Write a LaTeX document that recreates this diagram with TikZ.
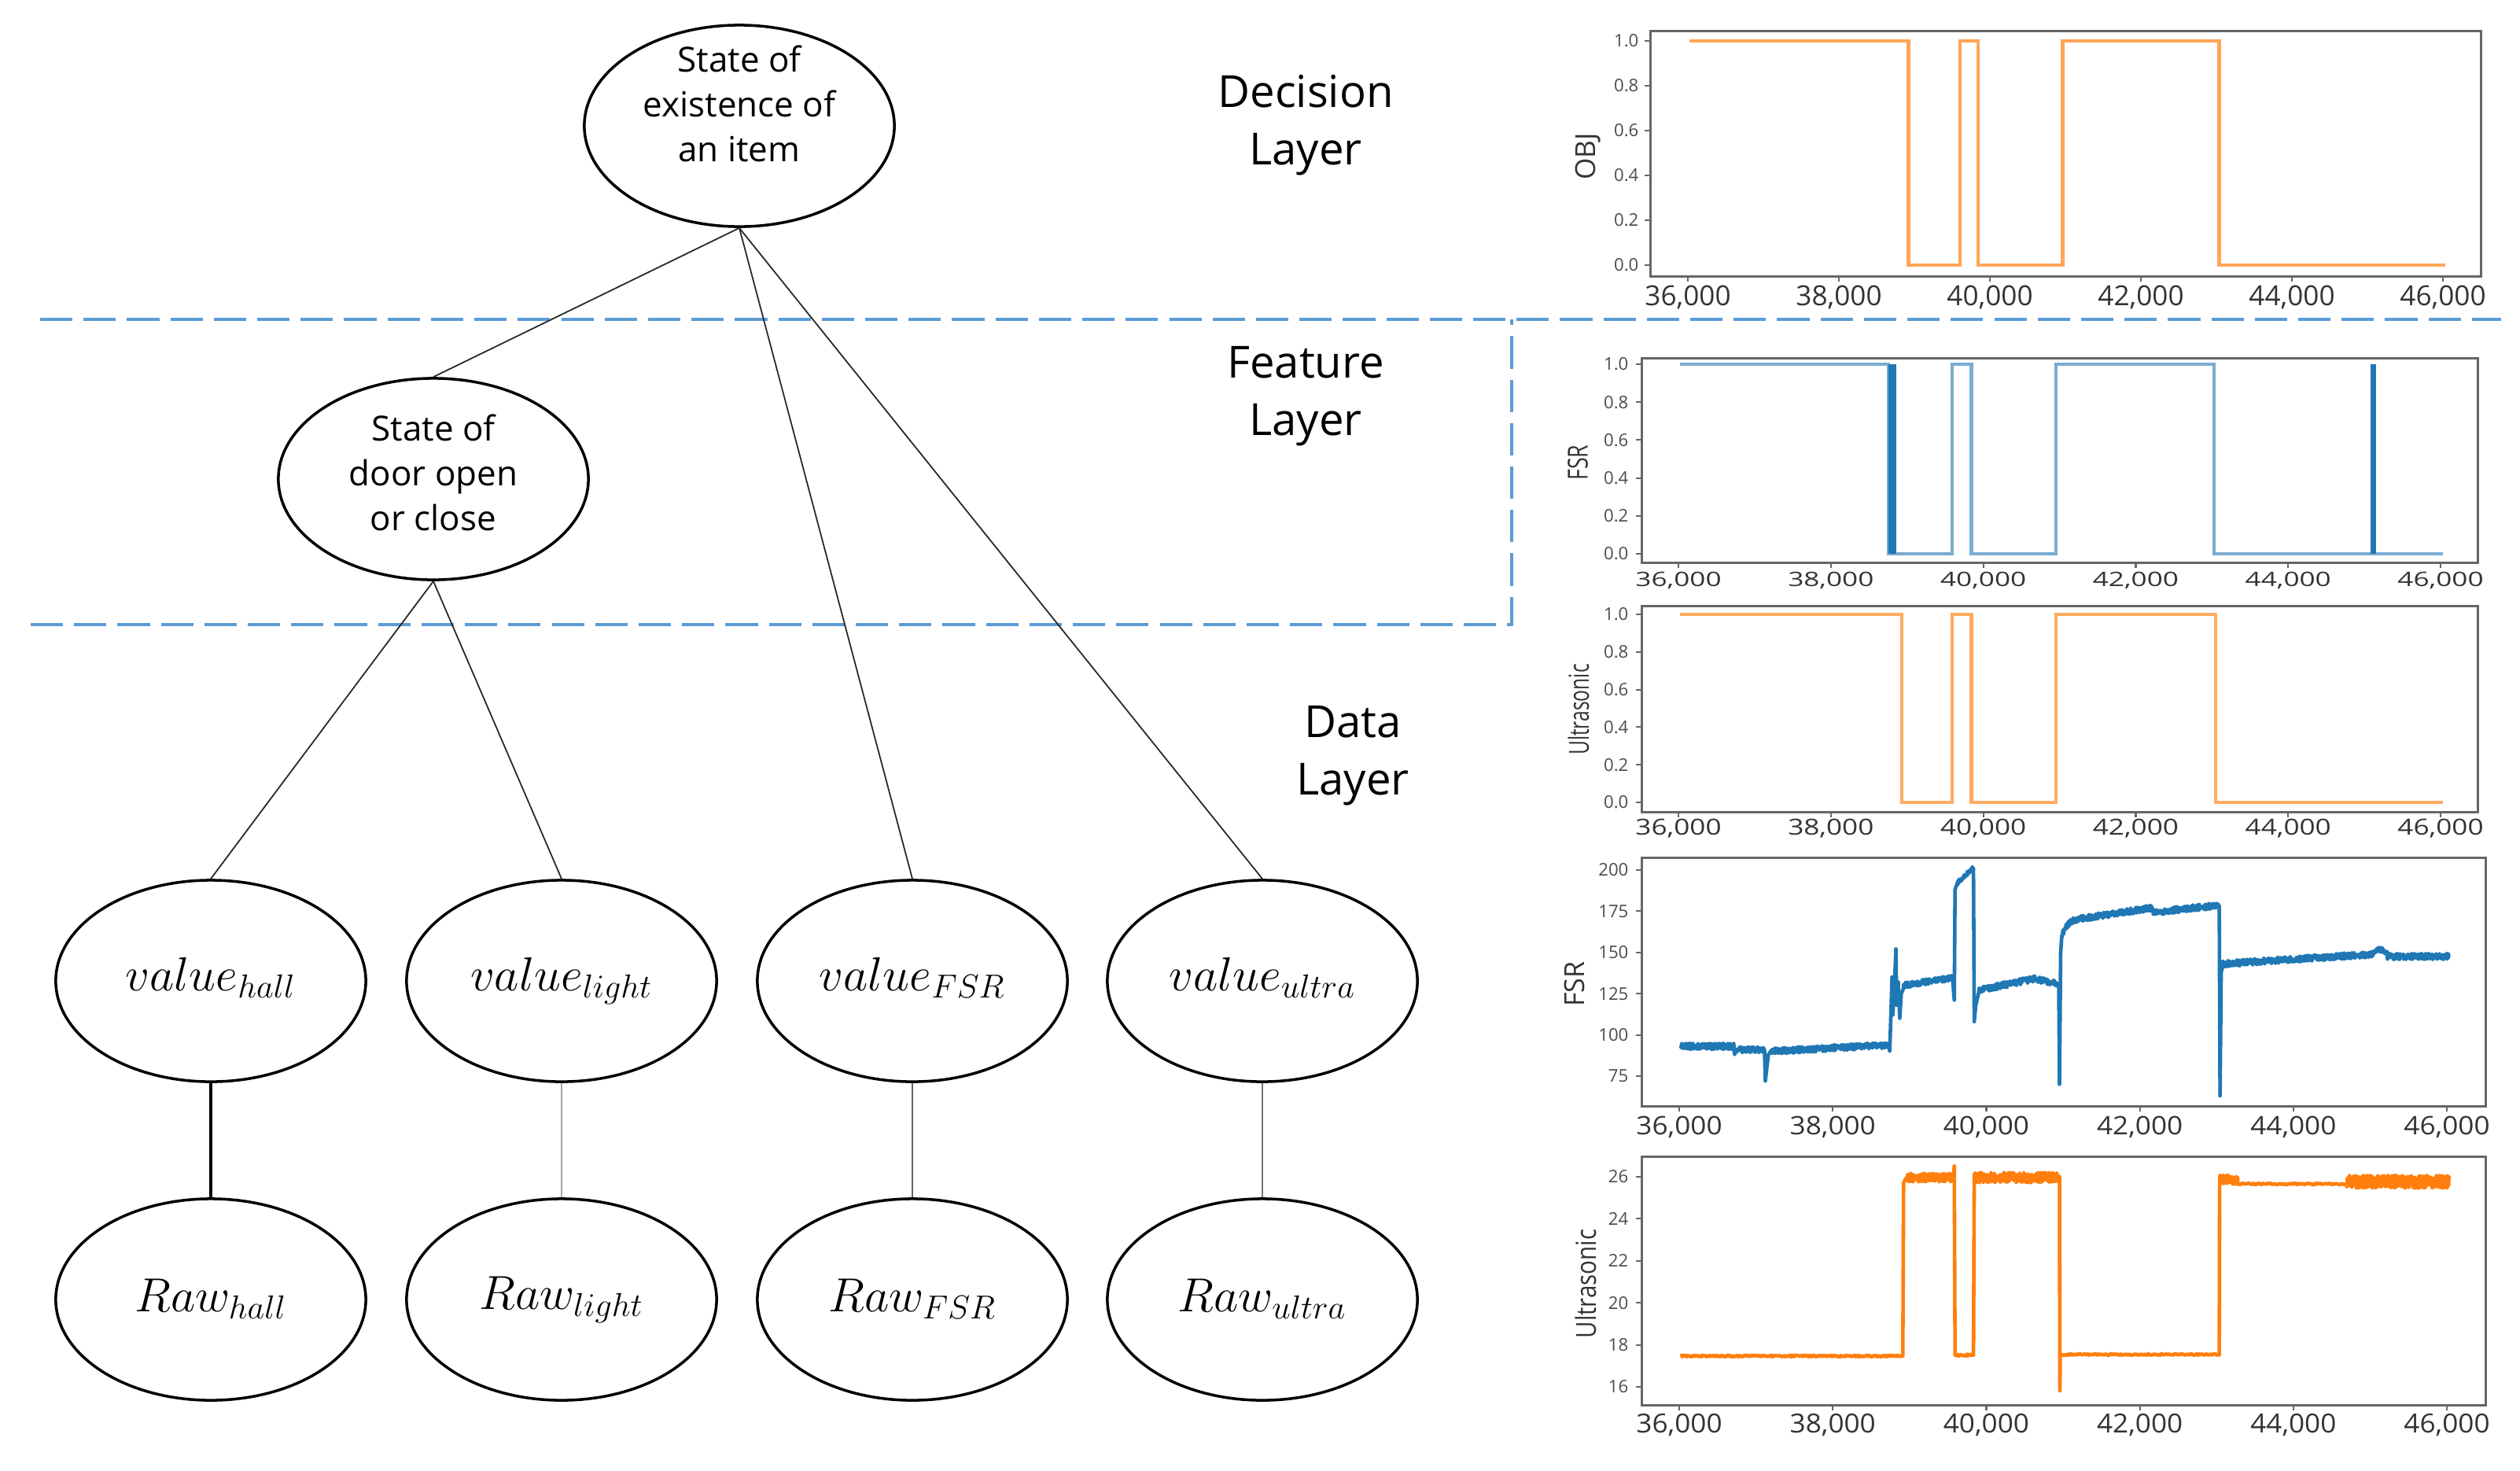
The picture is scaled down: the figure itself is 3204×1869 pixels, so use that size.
\documentclass[tikz,border=0pt]{standalone}
\usepackage[no-math]{fontspec}
\setmainfont{Open Sans}
\usepackage{graphicx}
\usetikzlibrary{shapes.geometric}
\definecolor{dashblue}{RGB}{91,155,213}
\definecolor{mplorange}{RGB}{255,127,14}
\definecolor{mplblue}{RGB}{31,119,180}
\begin{document}
\begin{tikzpicture}[x=0.01cm,y=-0.01cm,
  ell/.style={draw, ellipse, line width=1pt, minimum width=3.94cm, minimum height=2.56cm, inner sep=0pt},
  etxt/.style={align=center, font=\fontsize{12.5}{16.2}\selectfont, inner sep=0pt},
  mtxt/.style={font=\fontsize{16.5}{20}\selectfont},
  laytxt/.style={align=center, font=\fontsize{16}{20.8}\selectfont, inner sep=0pt},
  conn/.style={line width=0.5pt, black!85},
  dashsep/.style={dashblue, line width=1.4pt, dash pattern=on 11.7pt off 4pt},
  spine/.style={black!60, line width=0.85pt},
  tk/.style={black!60, line width=0.6pt},
  xtl/.style={font=\fontsize{10}{12}\selectfont, text=black!80, inner sep=0pt},
  ytl/.style={font=\fontsize{6.3}{7.5}\selectfont, text=black!70, inner sep=0pt, anchor=east},
  axl/.style={font=\fontsize{10}{12}\selectfont, text=black!80, inner sep=0pt, rotate=90},
  rawline/.style={line width=1.3pt, line join=round},
]
\useasboundingbox (0,0) rectangle (3204,1869);
\pgfmathsetseed{7}

% ---------- layer separators ----------
\coordinate (d1a) at (51,406);
\coordinate (d1b) at (3180,406);
\draw[dashsep] (d1a) -- (d1b);
\coordinate (d2a) at (39,794);
\coordinate (d2b) at (1922,794);
\coordinate (d2c) at (1922,406);
\draw[dashsep] (d2a) -- (d2b) -- (d2c);

% ---------- tree ----------
\node[ell] (obj) at (940,160) {};
\node[etxt] (objt) at (940,132) {State of\\existence of\\an item};
\node[ell] (door) at (551,609) {};
\node[etxt] (doort) at (551,601) {State of\\door open\\or close};

\node[ell, mtxt] (vh) at (268,1247) {\raisebox{5pt}{$value_{hall}$}};
\node[ell, mtxt] (vl) at (714,1247) {\raisebox{5pt}{$value_{light}$}};
\node[ell, mtxt] (vf) at (1160,1247) {\raisebox{5pt}{$value_{FSR}$}};
\node[ell, mtxt] (vu) at (1605,1247) {\raisebox{5pt}{$value_{ultra}$}};

\node[ell, mtxt] (rh) at (268,1652) {\raisebox{3pt}{$Raw_{hall}$}};
\node[ell, mtxt] (rl) at (714,1652) {\raisebox{3pt}{$Raw_{light}$}};
\node[ell, mtxt] (rf) at (1160,1652) {\raisebox{3pt}{$Raw_{FSR}$}};
\node[ell, mtxt] (ru) at (1605,1652) {\raisebox{3pt}{$Raw_{ultra}$}};

\draw[conn] (obj.south) -- (door.north);
\draw[conn] (obj.south) -- (vf.north);
\draw[conn] (obj.south) -- (vu.north);
\draw[conn] (door.south) -- (vh.north);
\draw[conn] (door.south) -- (vl.north);
\draw[line width=1pt] (vh.south) -- (rh.north);
\draw[line width=0.5pt, black!35] (vl.south) -- (rl.north);
\draw[line width=0.5pt, black!60] (vf.south) -- (rf.north);
\draw[line width=0.5pt, black!55] (vu.south) -- (ru.north);

\node[laytxt] (ldec) at (1660,159) {Decision\\Layer};
\node[laytxt] (lfea) at (1660,504) {Feature\\Layer};
\node[laytxt] (ldat) at (1720,961) {Data\\Layer};

% ---------- plot 1: OBJ ----------
\draw[spine] (2098,39) rectangle (3154,351);
\foreach \v/\l [count=\i] in {0/0.0,0.2/0.2,0.4/0.4,0.6/0.6,0.8/0.8,1/1.0} {
  \draw[tk] (2091,{337-285*\v}) -- (2098,{337-285*\v});
  \node[ytl] (oy\i) at (2084,{337-285*\v}) {\l};
}
\foreach \t [count=\i] in {36,38,...,46} {
  \draw[tk] ({2146+(\t-36)*96},351) -- ({2146+(\t-36)*96},358);
  \node[xtl] (ox\i) at ({2146+(\t-36)*96},378) {\t,000};
}
\node[axl] (olab) at (2019,199) {OBJ};
\begin{scope}[shift={(-1310,337)}, x=0.96cm, y=2.85cm]
  \draw[mplorange, opacity=0.7, line width=1.3pt]
    (36,1) -- (38.9,1) -- (38.9,0) -- (39.58,0) -- (39.58,1) -- (39.82,1) -- (39.82,0)
    -- (40.94,0) -- (40.94,1) -- (43.01,1) -- (43.01,0) -- (46,0);
\end{scope}

% ---------- plot 2: FSR binary ----------
\draw[spine] (2087,455) rectangle (3150,715);
\foreach \v/\l [count=\i] in {0/0.0,0.2/0.2,0.4/0.4,0.6/0.6,0.8/0.8,1/1.0} {
  \draw[tk] (2080,{704-241*\v}) -- (2087,{704-241*\v});
  \node[ytl] (fy\i) at (2071,{704-241*\v}) {\l};
}
\foreach \t [count=\i] in {36,38,...,46} {
  \draw[tk] ({2134+(\t-36)*96.9},715) -- ({2134+(\t-36)*96.9},722);
  \node[xtl] (fx\i) at ({2134+(\t-36)*96.9},738) {\scalebox{1}[0.72]{\t,000}};
}
\node[axl] (flab) at (2006,588) {\scalebox{0.76}[1]{FSR}};
\begin{scope}[shift={(-1354.4,704)}, x=0.969cm, y=2.41cm]
  \draw[mplblue, opacity=0.6, line width=1.2pt]
    (36,1) -- (38.73,1) -- (38.73,0) -- (39.57,0) -- (39.57,1) -- (39.82,1) -- (39.82,0)
    -- (40.93,0) -- (40.93,1) -- (43.0,1) -- (43.0,0) -- (46,0);
  \fill[mplblue] (38.73,0) rectangle (38.84,1);
  \draw[mplblue, line width=2.2pt] (45.09,0) -- (45.09,1);
\end{scope}

% ---------- plot 3: Ultrasonic binary ----------
\draw[spine] (2087,770) rectangle (3150,1032);
\foreach \v/\l [count=\i] in {0/0.0,0.2/0.2,0.4/0.4,0.6/0.6,0.8/0.8,1/1.0} {
  \draw[tk] (2080,{1020-239*\v}) -- (2087,{1020-239*\v});
  \node[ytl] (uy\i) at (2071,{1020-239*\v}) {\l};
}
\foreach \t [count=\i] in {36,38,...,46} {
  \draw[tk] ({2134+(\t-36)*96.9},1032) -- ({2134+(\t-36)*96.9},1039);
  \node[xtl] (ux\i) at ({2134+(\t-36)*96.9},1053) {\scalebox{1}[0.8]{\t,000}};
}
\node[axl] (ulab) at (2007,902) {\scalebox{0.70}[1]{Ultrasonic}};
\begin{scope}[shift={(-1354.4,1020)}, x=0.969cm, y=2.39cm]
  \draw[mplorange, opacity=0.65, line width=1.2pt]
    (36,1) -- (38.91,1) -- (38.91,0) -- (39.57,0) -- (39.57,1) -- (39.82,1) -- (39.82,0)
    -- (40.93,0) -- (40.93,1) -- (43.02,1) -- (43.02,0) -- (46,0);
\end{scope}

% ---------- plot 4: FSR raw ----------
\draw[spine] (2087,1090) rectangle (3160,1406);
\foreach \v [count=\i] in {75,100,125,150,175,200} {
  \draw[tk] (2080,{1525.2-2.096*\v}) -- (2087,{1525.2-2.096*\v});
  \node[ytl] (ry\i) at (2071,{1525.2-2.096*\v}) {\v};
}
\foreach \t [count=\i] in {36,38,...,46} {
  \draw[tk] ({2135+(\t-36)*97.6},1406) -- ({2135+(\t-36)*97.6},1413);
  \node[xtl] (rx\i) at ({2135+(\t-36)*97.6},1433) {\scalebox{1}[0.92]{\t,000}};
}
\node[axl] (rlab) at (2002,1251) {\scalebox{0.97}[1]{FSR}};
\begin{scope}[shift={(-1378.6,1525.2)}, x=0.976cm, y=0.02096cm]
  \draw[mplblue, rawline]
    plot[domain=36:36.69, samples=180] (\x,{93+1.8*rand})
    -- (36.7,88) -- (36.72,91)
    -- plot[domain=36.72:37.09, samples=90] (\x,{91+1.8*rand})
    -- (37.1,72) -- (37.12,80) -- (37.14,88) -- (37.17,90)
    -- plot[domain=37.17:38.7, samples=380] (\x,{90+(\x-37.17)*2.5+1.8*rand})
    -- (38.72,90) -- (38.74,120) -- (38.75,135) -- (38.76,112) -- (38.78,128)
    -- (38.8,152) -- (38.81,118) -- (38.83,132) -- (38.85,110) -- (38.87,125) -- (38.9,128)
    -- plot[domain=38.9:39.54, samples=160] (\x,{130+(\x-38.9)*7+1.7*rand})
    -- (39.56,121) -- (39.57,188) -- (39.6,192)
    -- plot[domain=39.6:39.8, samples=50] (\x,{192+(\x-39.6)*45+1.2*rand})
    -- (39.81,201) -- (39.82,108) -- (39.84,118) -- (39.88,126)
    -- plot[domain=39.88:40.6, samples=180] (\x,{127+(\x-39.88)*9.7+1.8*rand})
    -- plot[domain=40.6:40.9, samples=75] (\x,{134-(\x-40.6)*10+1.8*rand})
    -- (40.92,130) -- (40.93,70) -- (40.945,150) -- (40.96,160)
    -- plot[domain=40.96:41.3, samples=85] (\x,{160+11*(1-exp(-(\x-40.96)*12))+1.7*rand})
    -- plot[domain=41.3:42.15, samples=210] (\x,{171+(\x-41.3)*7+1.8*rand})
    -- plot[domain=42.15:42.3, samples=40] (\x,{174.5+1.5*rand})
    -- plot[domain=42.3:43.0, samples=175] (\x,{175+(\x-42.3)*5+1.8*rand})
    -- (43.01,178) -- (43.02,63) -- (43.035,138) -- (43.06,142)
    -- plot[domain=43.06:45.0, samples=480] (\x,{143+(\x-43.06)*3+1.8*rand})
    -- plot[domain=45.0:45.2, samples=50] (\x,{149+2.5*sin((\x-45.0)*900)+1.5*rand})
    -- plot[domain=45.2:46, samples=200] (\x,{147.5+1.8*rand});
\end{scope}

% ---------- plot 5: Ultrasonic raw ----------
\draw[spine] (2087,1470) rectangle (3160,1786);
\foreach \v [count=\i] in {16,18,20,22,24,26} {
  \draw[tk] (2080,{2190.2-26.7*\v}) -- (2087,{2190.2-26.7*\v});
  \node[ytl] (sy\i) at (2071,{2190.2-26.7*\v}) {\v};
}
\foreach \t [count=\i] in {36,38,...,46} {
  \draw[tk] ({2135+(\t-36)*97.6},1786) -- ({2135+(\t-36)*97.6},1793);
  \node[xtl] (sx\i) at ({2135+(\t-36)*97.6},1812) {\scalebox{1}[0.95]{\t,000}};
}
\node[axl] (slab) at (2016,1632) {\scalebox{0.84}[1]{Ultrasonic}};
\begin{scope}[shift={(-1378.6,2190.2)}, x=0.976cm, y=0.267cm]
  \draw[mplorange, rawline]
    plot[domain=36:38.88, samples=300] (\x,{17.46+0.04*rand})
    -- (38.89,17.45) -- (38.9,25.7) -- (38.93,25.9)
    -- plot[domain=38.93:39.54, samples=160] (\x,{25.95+0.2*rand})
    -- (39.55,26.0) -- (39.56,26.5) -- (39.57,17.5)
    -- plot[domain=39.57:39.8, samples=30] (\x,{17.5+0.05*rand})
    -- (39.81,17.5) -- (39.82,26.0)
    -- plot[domain=39.82:40.92, samples=280] (\x,{25.95+0.24*rand})
    -- (40.93,26.0) -- (40.935,15.8) -- (40.94,17.55)
    -- plot[domain=40.94:43.0, samples=150] (\x,{17.53+0.04*rand})
    -- (43.01,17.5) -- (43.015,25.8)
    -- plot[domain=43.02:43.25, samples=50] (\x,{25.85+0.22*rand})
    -- plot[domain=43.25:44.66, samples=100] (\x,{25.65+0.04*rand})
    -- (44.67,25.65)
    -- plot[domain=44.67:46, samples=420] (\x,{25.75+0.3*rand});
\end{scope}

\end{tikzpicture}
\end{document}
